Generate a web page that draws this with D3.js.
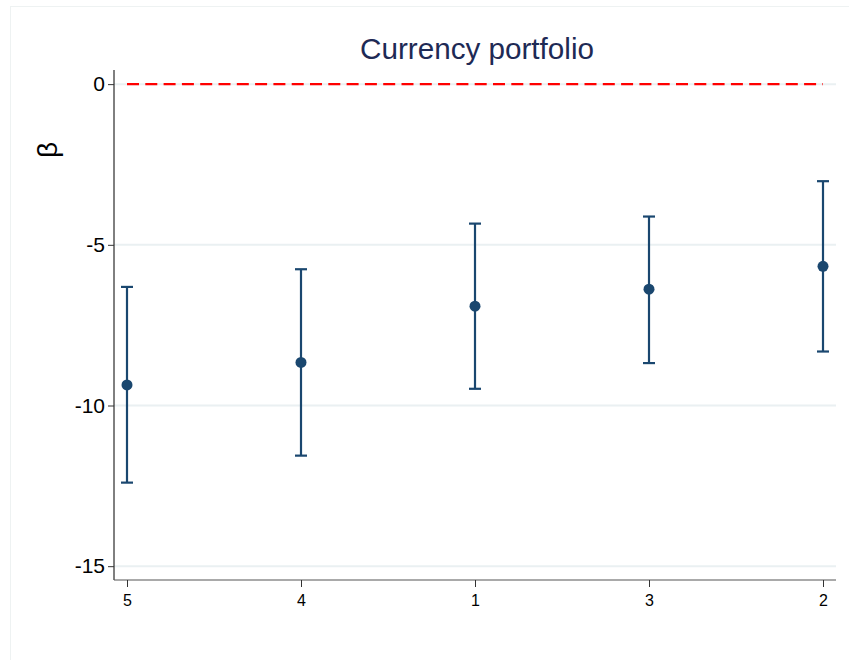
<!DOCTYPE html>
<html>
<head>
<meta charset="utf-8">
<script src="https://cdn.jsdelivr.net/npm/d3@7/dist/d3.min.js"></script>
<style>
  html, body { margin: 0; padding: 0; background: #ffffff; }
  svg { display: block; }
  text { font-family: "Liberation Sans", Arial, sans-serif; }
</style>
</head>
<body>
<svg id="chart" width="849" height="660"></svg>
<script>
// Portfolio groups in plotted order
const groups = ["5", "4", "1", "3", "2"];
// Point estimates of beta for each group
const estimates = [-9.36, -8.66, -6.91, -6.38, -5.67];
// Confidence interval bounds
const lower = [-12.40, -11.56, -9.48, -8.68, -8.32];
const upper = [-6.31, -5.76, -4.34, -4.12, -3.02];
// Y-axis tick values
const yTicks = [0, -5, -10, -15];
const refValue = 0;

const svg = d3.select("#chart");
const W = 849, H = 660;
const plot = { left: 114, right: 836, top: 70, bottom: 580 };

// faint outer frame
svg.append("rect")
  .attr("x", 10.5).attr("y", 6.5)
  .attr("width", W).attr("height", H)
  .attr("fill", "none").attr("stroke", "#eef2f2").attr("stroke-width", 1);

const x = d3.scalePoint().domain(groups).range([127, 823]);
const y = d3.scaleLinear().domain([-15.43, 0.44]).range([plot.bottom, plot.top]);

// gridlines
svg.append("g").selectAll("line").data(yTicks).join("line")
  .attr("x1", plot.left).attr("x2", plot.right)
  .attr("y1", d => y(d)).attr("y2", d => y(d))
  .attr("stroke", "#eaf0f2").attr("stroke-width", 2);

// y axis
const yAxis = svg.append("g")
  .attr("transform", `translate(${plot.left},0)`)
  .call(d3.axisLeft(y).tickValues(yTicks).tickSize(6).tickPadding(3).tickFormat(d3.format("d")));
yAxis.select(".domain").attr("stroke", "#000").attr("d", `M0,${plot.top}V${plot.bottom}`);
yAxis.selectAll(".tick line").attr("stroke", "#333");
yAxis.selectAll(".tick text")
  .attr("font-size", 21).attr("fill", "#000")
  .attr("font-family", "'Liberation Sans', Arial, sans-serif")
  .text(d => d < 0 ? "-" + Math.abs(d) : d);

// x axis
const xAxis = svg.append("g")
  .attr("transform", `translate(0,${plot.bottom})`)
  .call(d3.axisBottom(x).tickSize(7).tickPadding(8));
xAxis.select(".domain").attr("stroke", "#555").attr("d", `M${plot.left},0H${plot.right}`);
xAxis.selectAll(".tick line").attr("stroke", "#333");
xAxis.selectAll(".tick text")
  .attr("font-size", 16).attr("fill", "#000")
  .attr("font-family", "'Liberation Sans', Arial, sans-serif");

// reference line at zero
svg.append("line")
  .attr("x1", x(groups[0])).attr("x2", x(groups[groups.length - 1]))
  .attr("y1", y(refValue)).attr("y2", y(refValue))
  .attr("stroke", "#ff0000").attr("stroke-width", 2.2)
  .attr("stroke-dasharray", "12,6.3");

const rows = groups.map((g, i) => ({ g, est: estimates[i], lo: lower[i], hi: upper[i] }));
const navy = "#1a476f";
const cap = 6;

const bars = svg.append("g").selectAll("g").data(rows).join("g");
bars.append("line")
  .attr("x1", d => x(d.g)).attr("x2", d => x(d.g))
  .attr("y1", d => y(d.lo)).attr("y2", d => y(d.hi))
  .attr("stroke", navy).attr("stroke-width", 2.2);
bars.append("line")
  .attr("x1", d => x(d.g) - cap).attr("x2", d => x(d.g) + cap)
  .attr("y1", d => y(d.hi)).attr("y2", d => y(d.hi))
  .attr("stroke", navy).attr("stroke-width", 2.2);
bars.append("line")
  .attr("x1", d => x(d.g) - cap).attr("x2", d => x(d.g) + cap)
  .attr("y1", d => y(d.lo)).attr("y2", d => y(d.lo))
  .attr("stroke", navy).attr("stroke-width", 2.2);
bars.append("circle")
  .attr("cx", d => x(d.g)).attr("cy", d => y(d.est))
  .attr("r", 5.5).attr("fill", navy);

// title
svg.append("text")
  .attr("x", 477).attr("y", 59)
  .attr("text-anchor", "middle")
  .attr("font-size", 30).attr("fill", "#1e2a55")
  .attr("textLength", 234).attr("lengthAdjust", "spacingAndGlyphs")
  .text("Currency portfolio");

// y axis label
svg.append("text")
  .attr("transform", "translate(57,150) rotate(-90)")
  .attr("text-anchor", "middle")
  .attr("font-family", "'Liberation Serif', 'Times New Roman', serif")
  .attr("font-size", 28).attr("fill", "#000")
  .text("β");
</script>
</body>
</html>
